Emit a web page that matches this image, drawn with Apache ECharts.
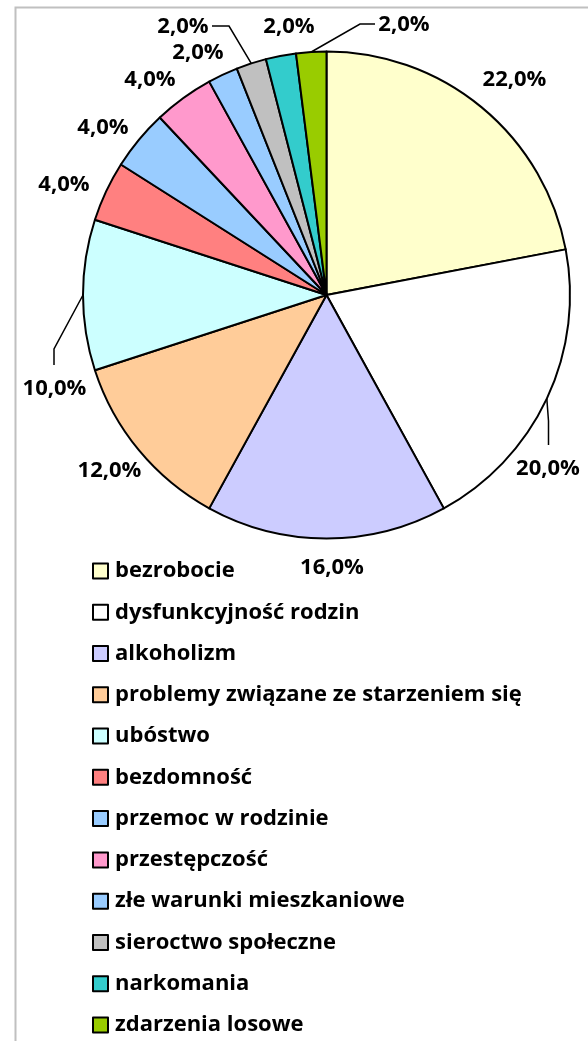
<!DOCTYPE html>
<html>
<head>
<meta charset="utf-8">
<script src="https://cdn.jsdelivr.net/npm/echarts@6/dist/echarts.min.js"></script>
<style>
html,body{margin:0;padding:0;background:#fff;}
#c{width:588px;height:1041px;}
</style>
</head>
<body>
<div id="c"></div>
<script>
// ---- data ----
const categories = [
  'bezrobocie',
  'dysfunkcyjność rodzin',
  'alkoholizm',
  'problemy związane ze starzeniem się',
  'ubóstwo',
  'bezdomność',
  'przemoc w rodzinie',
  'przestępczość',
  'złe warunki mieszkaniowe',
  'sieroctwo społeczne',
  'narkomania',
  'zdarzenia losowe'
];
const percentValues = [22, 20, 16, 12, 10, 4, 4, 4, 2, 2, 2, 2];
const sliceColors = ['#FFFFCC','#FFFFFF','#CCCCFF','#FFCC99','#CCFFFF','#FF8080','#99CCFF','#FF99CC','#99CCFF','#C0C0C0','#33CCCC','#99CC00'];

// ---- layout (label placement relative to pie centre, leader line bends) ----
const CX = 326.5, CY = 295, R = 243.5;
const labelOffsets = [
  [188, -215], [221.5, 174], [5.5, 273], [-217, 176], [-272, 94], [-262.5, -110],
  [-223.5, -167], [-176.5, -215], [-128.5, -242], [-143.5, -268], [-37.5, -268], [77.5, -270]
];
// leader lines: index -> [elbow, end] relative to pie centre
const leaders = {
  1: [[222, 126], [222, 150]],
  4: [[-272.5, 54], [-272.5, 70]],
  9: [[-97.5, -269], [-114.5, -269]],
  11: [[33.5, -271], [48.5, -271]]
};

const FONT = 'Open Sans';
const FS = 22;
const chart = echarts.init(document.getElementById('c'), null, {renderer: 'canvas'});

const data = categories.map((name, i) => ({
  name: name,
  value: percentValues[i],
  itemStyle: {color: sliceColors[i]},
  labelLine: {show: leaders[i] !== undefined}
}));

chart.setOption({
  animation: false,
  backgroundColor: '#ffffff',
  graphic: [{
    type: 'rect',
    z: -10,
    shape: {x: 15.5, y: 7.5, width: 700, height: 1200},
    style: {fill: 'none', stroke: '#C0C0C0', lineWidth: 2}
  }],
  legend: {
    orient: 'vertical',
    left: 92,
    top: 558,
    height: 480,
    padding: 0,
    itemWidth: 15,
    itemHeight: 15,
    itemGap: 15.27,
    icon: 'rect',
    selectedMode: false,
    itemStyle: {borderColor: '#000', borderWidth: 2},
    textStyle: {
      fontFamily: FONT, fontWeight: 'bold', fontSize: FS, color: '#000',
      lineHeight: 26, padding: [0, 0, 0, 2]
    },
    data: categories
  },
  series: [{
    type: 'pie',
    center: [CX, CY],
    radius: [0, R],
    startAngle: 90,
    clockwise: true,
    avoidLabelOverlap: false,
    silent: true,
    itemStyle: {borderColor: '#000', borderWidth: 2},
    label: {
      show: true,
      position: 'outside',
      fontFamily: FONT, fontWeight: 'bold', fontSize: FS, color: '#000',
      formatter: p => p.value.toFixed(1).replace('.', ',') + '%'
    },
    labelLine: {show: true, length: 10, length2: 10, lineStyle: {color: '#000', width: 1.5}},
    labelLayout: function (params) {
      const i = params.dataIndex;
      const o = labelOffsets[i];
      const res = {x: CX + o[0], y: CY + o[1], align: 'center', verticalAlign: 'middle'};
      if (leaders[i] && params.labelLinePoints) {
        const p0 = params.labelLinePoints[0];
        res.labelLinePoints = [
          [p0[0], p0[1]],
          [CX + leaders[i][0][0], CY + leaders[i][0][1]],
          [CX + leaders[i][1][0], CY + leaders[i][1][1]]
        ];
      }
      return res;
    },
    data: data
  }]
});
</script>
</body>
</html>
